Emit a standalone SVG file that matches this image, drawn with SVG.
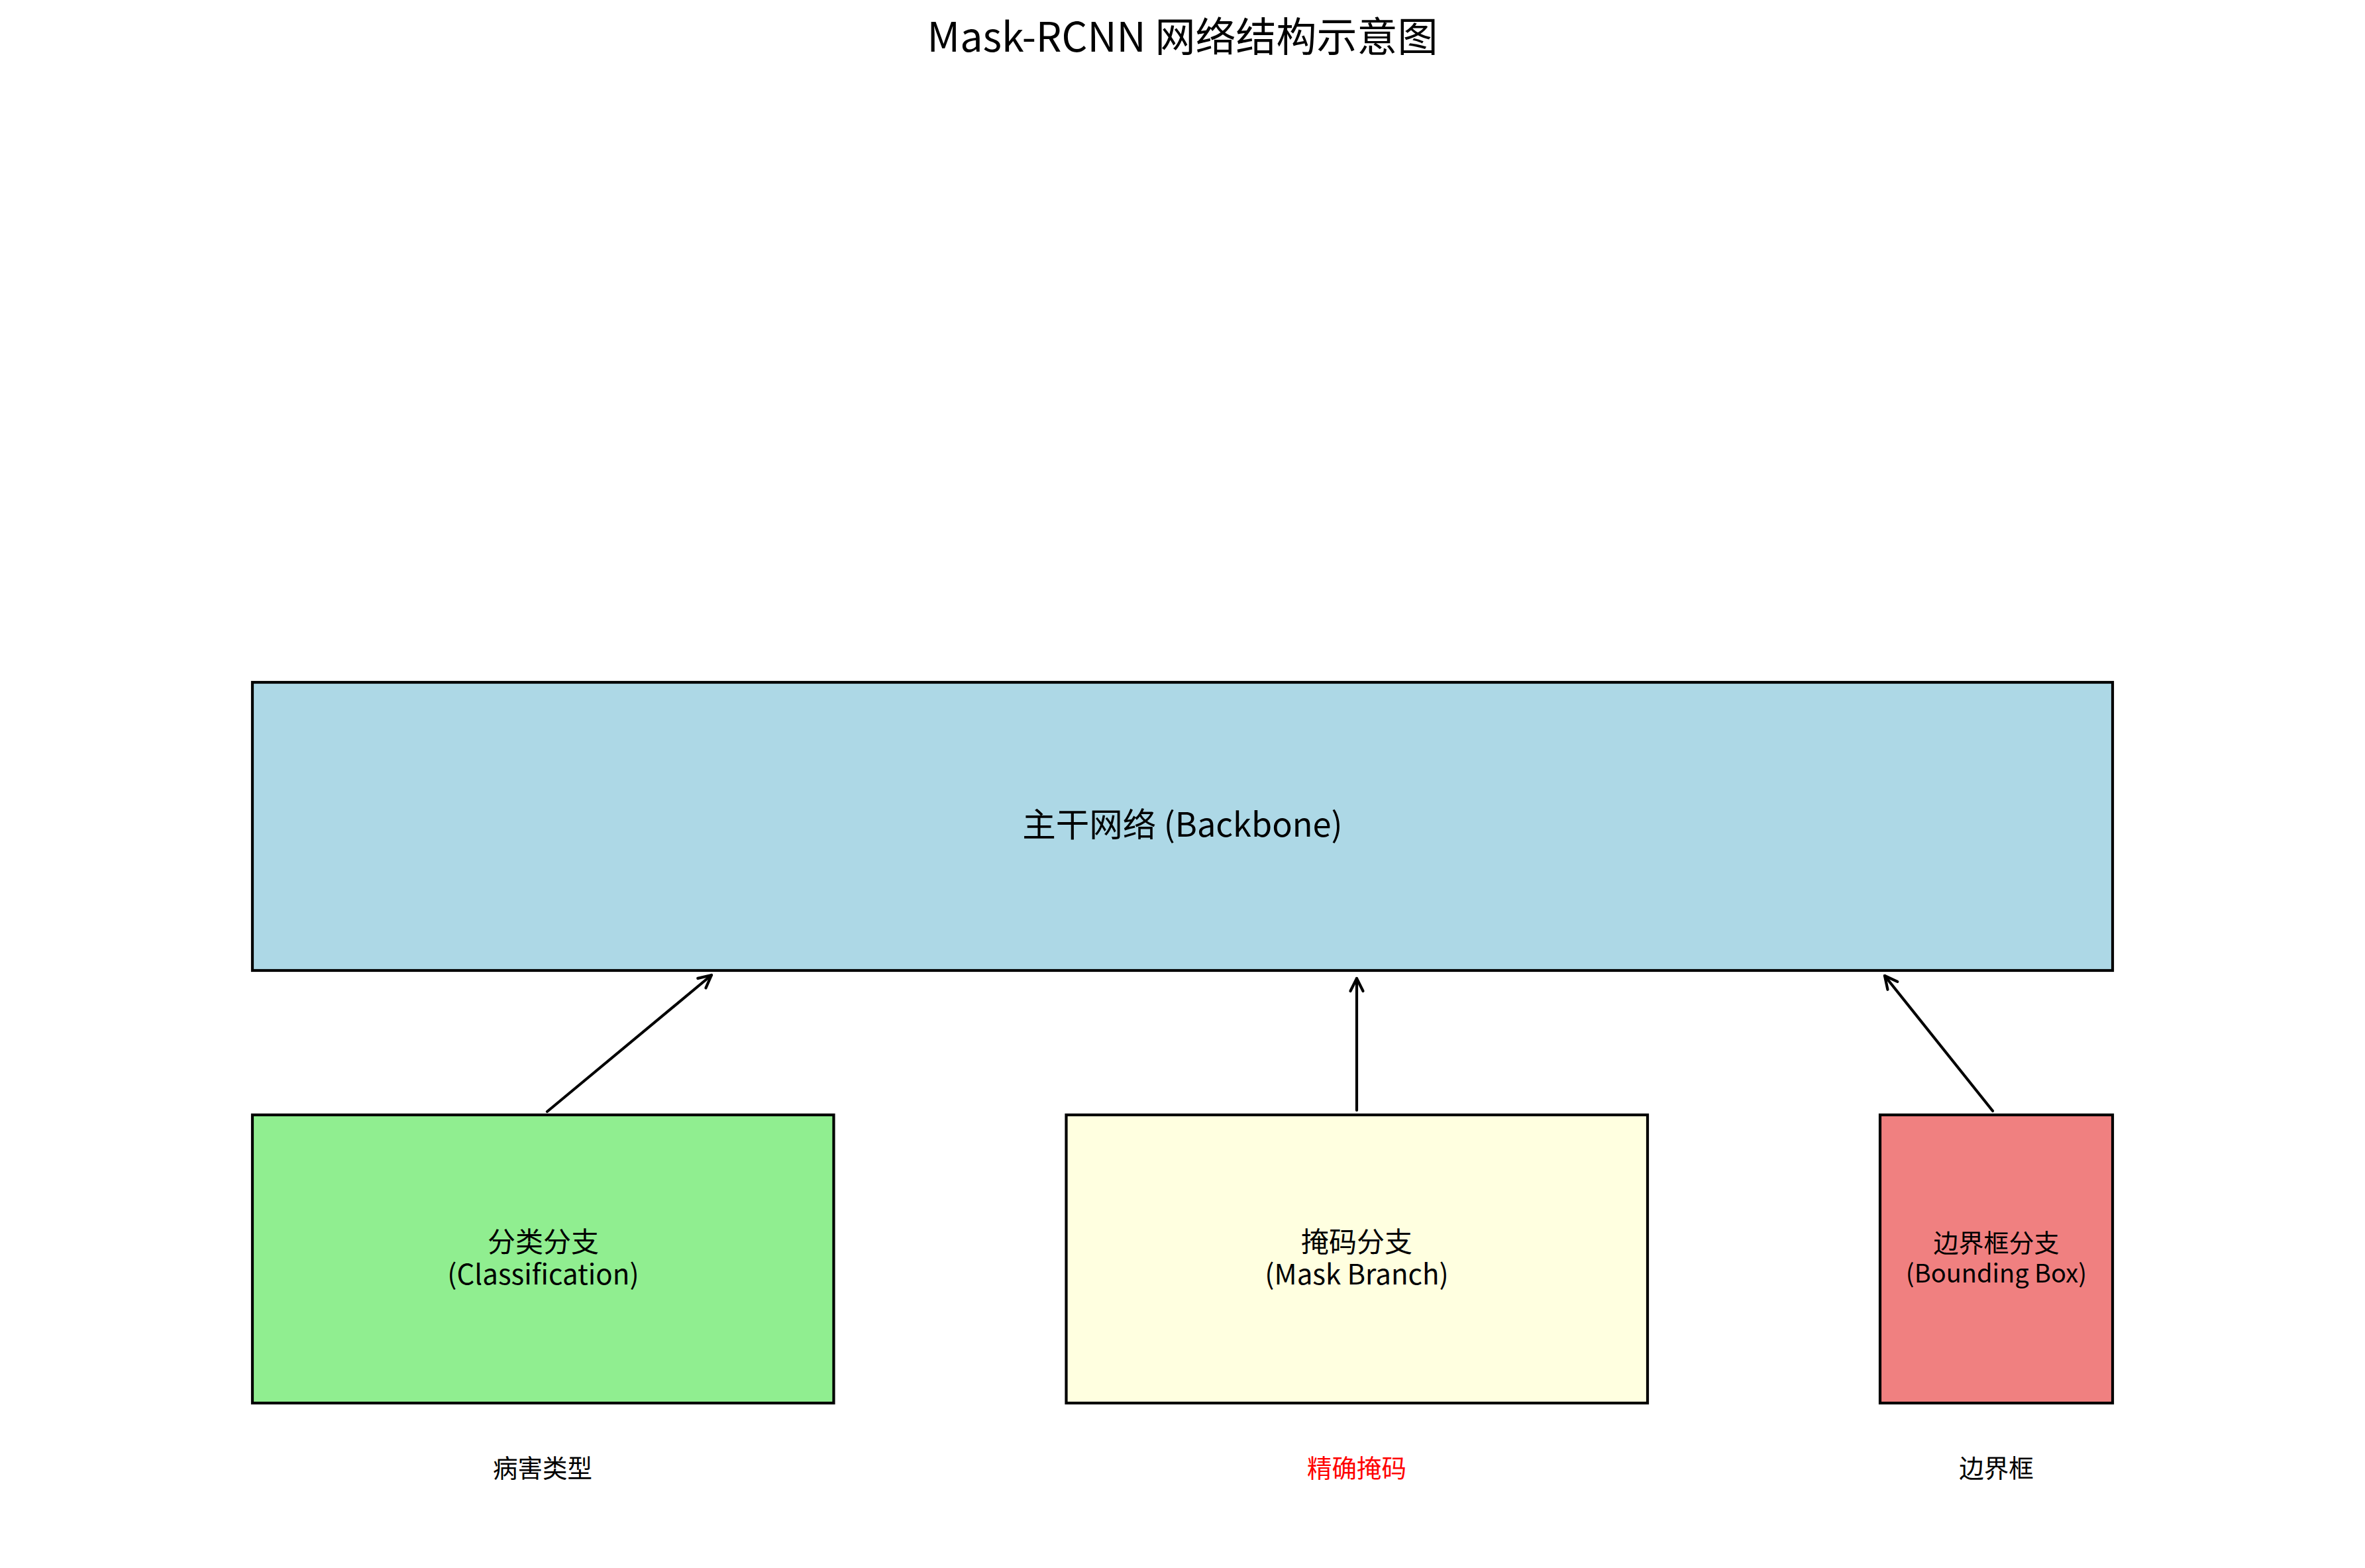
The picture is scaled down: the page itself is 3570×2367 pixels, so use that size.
<svg xmlns="http://www.w3.org/2000/svg" width="3570" height="2367" viewBox="0 0 3570 2367">
<style>
text{font-family:"Noto Sans CJK SC","Liberation Sans",sans-serif;fill:#000;text-anchor:middle}
.box{stroke:#000;stroke-width:4.2}
.title{font-size:61px}
.main{font-size:50.5px}
.br{font-size:42px}
.brs{font-size:38px}
.lbl{font-size:37.5px}
.conn line{stroke:#000;stroke-width:4.2;stroke-linecap:round;fill:none}
</style>
<defs>
<marker id="ah" markerUnits="userSpaceOnUse" markerWidth="40" markerHeight="40" viewBox="-30 -20 40 40" refX="0" refY="0" orient="auto">
<path d="M-19,-9.5 L0,0 L-19,9.5" fill="none" stroke="#000" stroke-width="4.2" stroke-linecap="round" stroke-linejoin="round"/>
</marker>
</defs>
<rect width="3570" height="2367" fill="#fff"/>
<text class="title" x="1785" y="78">Mask-RCNN 网络结构示意图</text>
<g id="backbone">
<rect class="box" x="381" y="1030" width="2808" height="435" fill="#ADD8E6"/>
<text class="main" x="1785" y="1263">主干网络 (Backbone)</text>
</g>
<g id="classification">
<rect class="box" x="381" y="1683" width="877.5" height="435" fill="#90EE90"/>
<text class="br" x="820" y="1890">分类分支</text>
<text class="br" x="820" y="1939">(Classification)</text>
</g>
<g id="mask">
<rect class="box" x="1609.5" y="1683" width="877.5" height="435" fill="#FFFFE0"/>
<text class="br" x="2048" y="1890">掩码分支</text>
<text class="br" x="2048" y="1939">(Mask Branch)</text>
</g>
<g id="bbox">
<rect class="box" x="2838" y="1683" width="351" height="435" fill="#F08080"/>
<text class="brs" x="3013.5" y="1890">边界框分支</text>
<text class="brs" x="3013.5" y="1936">(Bounding Box)</text>
</g>
<g id="label-cls"><text class="lbl" x="819" y="2230">病害类型</text></g>
<g id="label-mask"><text class="lbl" x="2048" y="2230" style="fill:#FF0000">精确掩码</text></g>
<g id="label-bbox"><text class="lbl" x="3013.5" y="2230">边界框</text></g>
<g class="conn" id="connectors">
<line x1="826" y1="1678" x2="1074" y2="1472" marker-end="url(#ah)"/>
<line x1="2048" y1="1676" x2="2048" y2="1477" marker-end="url(#ah)"/>
<line x1="3008" y1="1677" x2="2845" y2="1473" marker-end="url(#ah)"/>
</g>
</svg>
